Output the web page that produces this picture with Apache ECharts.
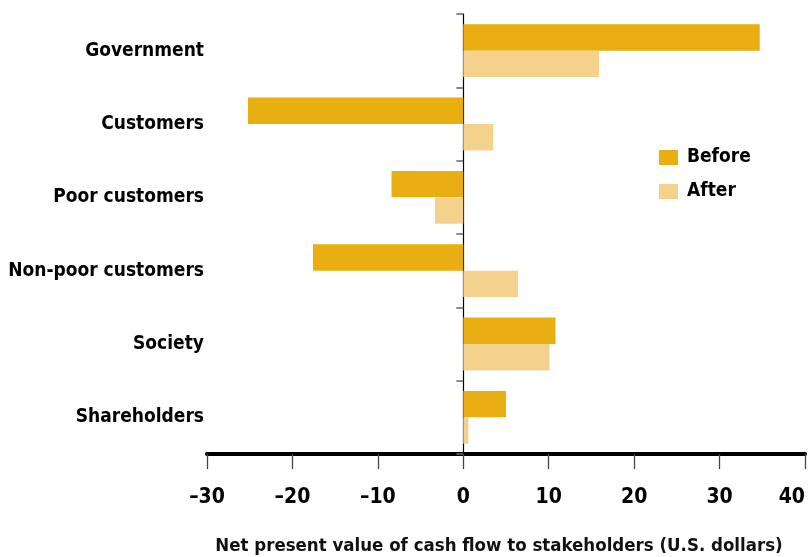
<!DOCTYPE html>
<html>
<head>
<meta charset="utf-8">
<script src="https://cdn.jsdelivr.net/npm/echarts@6/dist/echarts.min.js"></script>
<style>
html,body{margin:0;padding:0;background:#fff;}
#chart{width:808px;height:557px;}
</style>
</head>
<body>
<div id="chart"></div>
<script>
const categories = ['Government', 'Customers', 'Poor customers', 'Non-poor customers', 'Society', 'Shareholders'];
const beforeValues = [34.7, -25.2, -8.4, -17.6, 10.8, 5.0];
const afterValues = [15.9, 3.5, -3.3, 6.4, 10.1, 0.6];
const xTicks = { min: -30, max: 40, interval: 10 };
const axisTitle = 'Net present value of cash flow to stakeholders (U.S. dollars)';

const FONT = "'Liberation Sans Narrow', 'DejaVu Sans Condensed', 'Liberation Sans', sans-serif";
const chart = echarts.init(document.getElementById('chart'));
chart.setOption({
  animation: false,
  backgroundColor: '#ffffff',
  textStyle: { fontFamily: FONT },
  grid: { left: 207, right: 3, top: 14, bottom: 103, containLabel: false, outerBoundsMode: 'none' },
  legend: {
    orient: 'vertical',
    left: 654,
    top: 143,
    itemWidth: 19,
    itemHeight: 15,
    itemGap: 15,
    icon: 'rect',
    textStyle: { fontFamily: FONT, fontWeight: 'bold', fontSize: 19, color: '#000', padding: [0, 0, 0, 4] },
    data: ['Before', 'After']
  },
  xAxis: {
    type: 'value',
    min: xTicks.min,
    max: xTicks.max,
    interval: xTicks.interval,
    name: axisTitle,
    nameLocation: 'middle',
    nameGap: 83,
    nameTextStyle: { fontFamily: FONT, fontWeight: 'bold', fontSize: 18.5, color: '#111', padding: [0, 14, 0, 0] },
    axisLine: { show: true, lineStyle: { color: '#000', width: 4 } },
    axisTick: { show: true, length: 15, lineStyle: { color: '#444', width: 1.3 } },
    axisLabel: {
      margin: 33,
      alignMaxLabel: 'right',
      fontFamily: FONT, fontWeight: 'bold', fontSize: 21, color: '#000',
      formatter: v => String(v).replace('-', '\u2013')
    },
    splitLine: { show: false }
  },
  yAxis: [
    {
      type: 'category',
      data: categories,
      inverse: true,
      position: 'left',
      axisLine: { show: false, onZero: false },
      axisTick: { show: false },
      axisLabel: { margin: 3, fontFamily: FONT, fontWeight: 'bold', fontSize: 19, color: '#000' }
    },
    {
      type: 'category',
      data: categories,
      inverse: true,
      position: 'left',
      axisLine: { show: true, onZero: true, lineStyle: { color: '#000', width: 1.2 } },
      axisTick: { show: true, length: 7, inside: false, lineStyle: { color: '#666', width: 1.5 } },
      axisLabel: { show: false }
    }
  ],
  series: [
    {
      name: 'Before', type: 'bar', data: beforeValues, yAxisIndex: 0,
      itemStyle: { color: '#E8AE12' },
      barCategoryGap: '28%', barGap: '0%'
    },
    {
      name: 'After', type: 'bar', data: afterValues, yAxisIndex: 0,
      itemStyle: { color: '#F4D28E' },
      barCategoryGap: '28%', barGap: '0%'
    }
  ]
});
</script>
</body>
</html>
